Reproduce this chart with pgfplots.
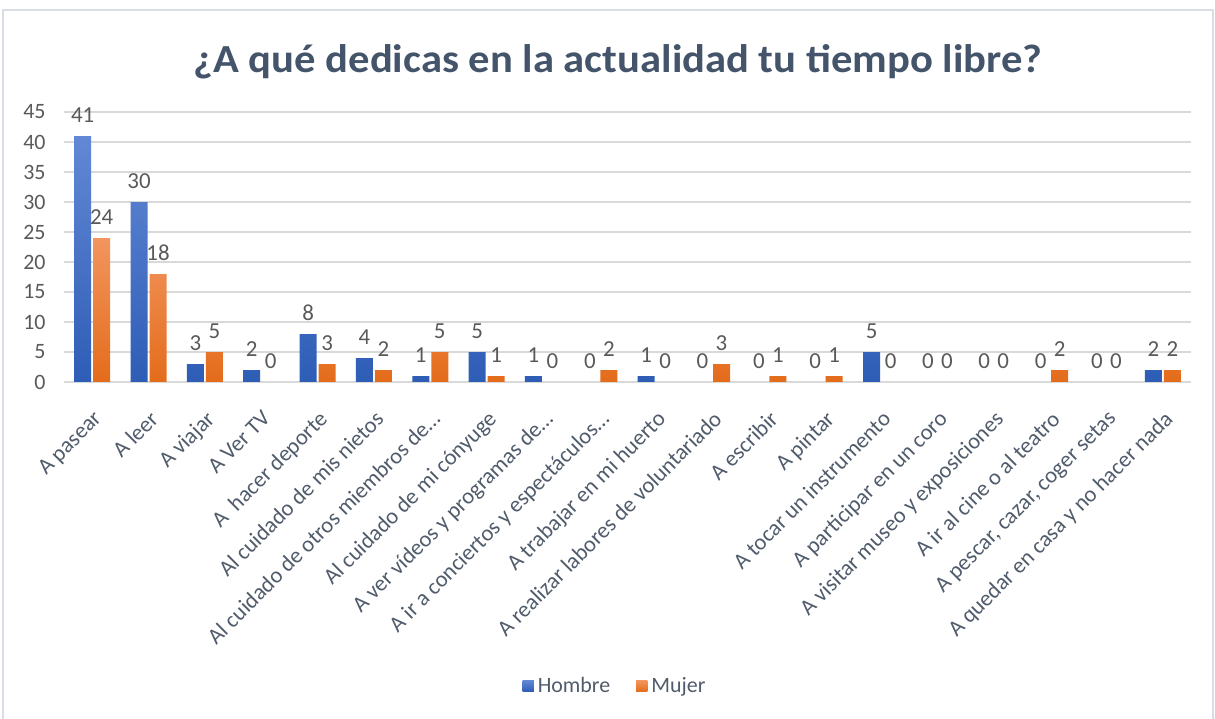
\documentclass[border=0pt]{standalone}
\usepackage{pgfplots}
\pgfplotsset{compat=1.18}
\usepackage{pgfplotstable}
\usepackage{fontspec}
\setmainfont{Carlito}
\newfontfamily\ttlfont{Carlito}[FakeStretch=1.07]
\definecolor{txt}{HTML}{595959}
\definecolor{lbl}{HTML}{505B6B}
\definecolor{ttl}{HTML}{44546A}
\definecolor{grd}{HTML}{D9D9D9}
\definecolor{frm}{HTML}{D9DEE6}
\definecolor{bluetop}{HTML}{6288D5}
\definecolor{bluebot}{HTML}{2E5DB6}
\definecolor{orgtop}{HTML}{F2955E}
\definecolor{orgbot}{HTML}{E46C1B}
\pgfplotstableread{
x h m
0 41 24
1 30 18
2 3 5
3 2 0
4 8 3
5 4 2
6 1 5
7 5 1
8 1 0
9 0 2
10 1 0
11 0 3
12 0 1
13 0 1
14 5 0
15 0 0
16 0 0
17 0 2
18 0 0
19 2 2
}\data
\pgfplotsset{/pgf/number format/assume math mode=true}
\begin{document}
\begin{tikzpicture}
\path[use as bounding box] (0,0) rectangle (607.5bp,359.5bp);
\draw[frm, line width=0.75bp] (1.5bp,0) -- (1.5bp,354.5bp) -- (606.5bp,354.5bp) -- (606.5bp,0);
\node[font=\ttlfont\bfseries\fontsize{20}{24}\selectfont, text=ttl] at (309bp,328.5bp) {¿A qué dedicas en la actualidad tu tiempo libre?};
\begin{axis}[
  at={(32bp,168.5bp)}, anchor=south west, scale only axis,
  width=563.5bp, height=135bp,
  ybar=1bp, bar width=8.5bp,
  xmin=-0.5, xmax=19.5, ymin=0, ymax=45,
  ytick={0,5,...,45},
  xtick={0,...,19},
  xticklabels={A pasear, A leer, A viajar, A Ver TV, A\ \ hacer deporte, Al cuidado de mis nietos, Al cuidado de otros miembros de…, Al cuidado de mi cónyuge, A ver vídeos y programas de…, A ir a conciertos y espectáculos…, A trabajar en mi huerto, A realizar labores de voluntariado, A escribir, A pintar, A tocar un instrumento, A participar en un coro, A visitar museo y exposiciones, A ir al cine o al teatro, {A pescar, cazar, coger setas}, A quedar en casa y no hacer nada},
  axis line style={draw=none},
  major tick length=0pt,
  ymajorgrids, grid style={grd, line width=0.75bp},
  yticklabel style={font=\fontsize{11}{13}\selectfont, text=txt, inner sep=0pt, xshift=-9bp},
  xticklabel style={xshift=0bp, yshift=-13.5bp, rotate=45, anchor=north east, font=\fontsize{11.3}{13}\selectfont, text=lbl, inner sep=0pt},
  nodes near coords,
  every node near coord/.append style={font=\fontsize{11.5}{13}\selectfont, text=txt, yshift=3bp},
  legend style={at={(0.4898,-1.126)}, anchor=center, draw=none, fill=none, legend columns=2, font=\fontsize{11}{13}\selectfont, text=lbl, /tikz/every even column/.append style={column sep=11bp}},
  legend image code/.code={\path[#1, draw=none] (0bp,-2.8bp) rectangle (5.6bp,2.8bp);},
]
\addplot[draw=none, top color=bluetop, bottom color=bluebot] table[x=x, y=h] {\data};
\addplot[draw=none, top color=orgtop, bottom color=orgbot] table[x=x, y=m] {\data};
\legend{Hombre, Mujer}
\end{axis}
\end{tikzpicture}
\end{document}
